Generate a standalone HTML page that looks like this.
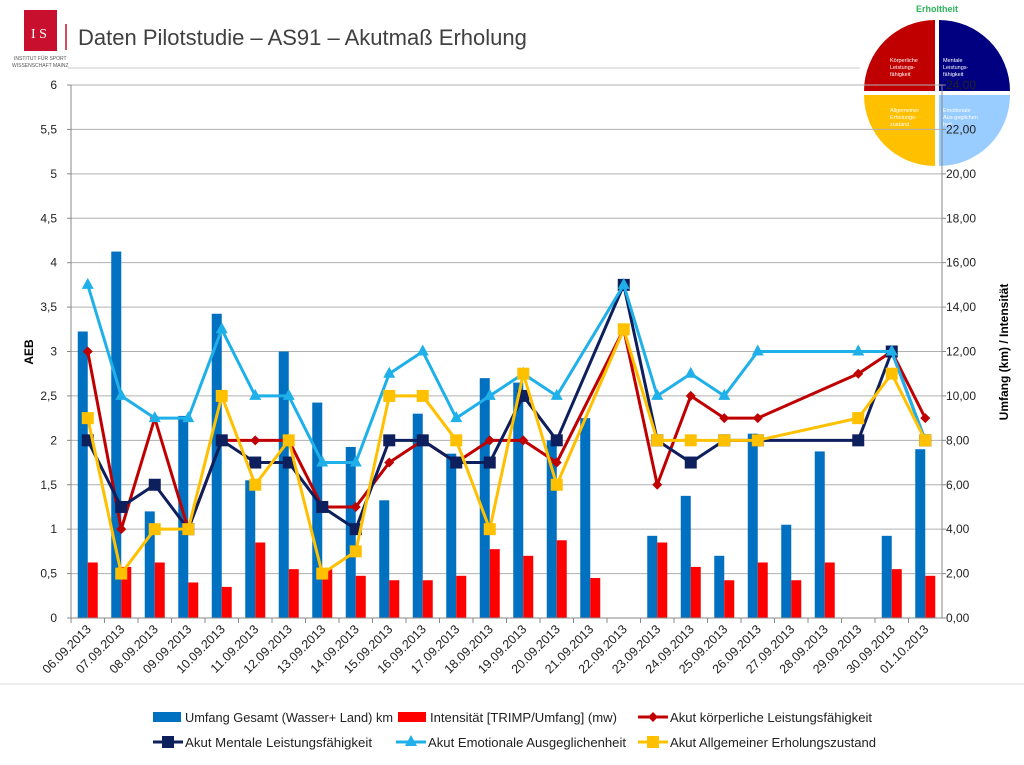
<!DOCTYPE html>
<html><head><meta charset="utf-8">
<style>
body{margin:0;background:#fff;width:1024px;height:765px;overflow:hidden;font-family:"Liberation Sans",sans-serif;}
svg{position:absolute;left:0;top:0}
</style></head>
<body>
<svg id="chart" width="1024" height="765">
 <g>
  <rect x="24" y="10" width="33" height="41" fill="#c8102e"/>
  <text x="31" y="38" font-size="14" fill="#fff" font-family="Liberation Serif, serif">I S</text>
  <text x="14" y="60" font-size="5" fill="#555">INSTITUT FÜR SPORT</text>
  <text x="12" y="67" font-size="5" fill="#555">WISSENSCHAFT MAINZ</text>
  <line x1="66" y1="24" x2="66" y2="50" stroke="#c8102e" stroke-width="1.5"/>
  <text x="78" y="45" font-size="22" fill="#404040">Daten Pilotstudie – AS91 – Akutmaß Erholung</text>
  <line x1="68" y1="68" x2="860" y2="68" stroke="#ccc" stroke-width="1"/>
 </g>
 <g>
  <text x="937" y="12" font-size="9" font-weight="bold" fill="#2eb35a" text-anchor="middle">Erholtheit</text>
  <path d="M935,91 L935,20 A71,71 0 0 0 864,91 Z" fill="#c00000"/>
  <path d="M939,91 L939,20 A71,71 0 0 1 1010,91 Z" fill="#000080"/>
  <path d="M935,95 L864,95 A71,71 0 0 0 935,166 Z" fill="#ffc000"/>
  <path d="M939,95 L1010,95 A71,71 0 0 1 939,166 Z" fill="#99ccff"/>
  <g font-size="5.5" fill="#fff">
   <text x="890" y="62">Körperliche</text><text x="890" y="69">Leistungs-</text><text x="890" y="76">fähigkeit</text>
   <text x="943" y="62">Mentale</text><text x="943" y="69">Leistungs-</text><text x="943" y="76">fähigkeit</text>
   <text x="890" y="112">Allgemeiner</text><text x="890" y="119">Erholungs-</text><text x="890" y="126">zustand</text>
   <text x="943" y="112">Emotionale</text><text x="943" y="119">Aus-geglichen</text><text x="943" y="126">heit</text>
  </g>
 </g>
 <g id="grid"></g><g id="bars"></g><g id="lines"></g><g id="axes"></g>
 <line x1="0" y1="684" x2="1024" y2="684" stroke="#d9d9d9" stroke-width="1"/>
 <g id="legend" font-size="13" fill="#222"></g>
</svg>
<script>
const dates=["06.09.2013","07.09.2013","08.09.2013","09.09.2013","10.09.2013","11.09.2013","12.09.2013","13.09.2013","14.09.2013","15.09.2013","16.09.2013","17.09.2013","18.09.2013","19.09.2013","20.09.2013","21.09.2013","22.09.2013","23.09.2013","24.09.2013","25.09.2013","26.09.2013","27.09.2013","28.09.2013","29.09.2013","30.09.2013","01.10.2013"];
const umfang=[12.9,16.5,4.8,9.1,13.7,6.2,12.0,9.7,7.7,5.3,9.2,7.4,10.8,10.6,8.0,9.0,null,3.7,5.5,2.8,8.3,4.2,7.5,null,3.7,7.6];
const intens=[2.5,2.3,2.5,1.6,1.4,3.4,2.2,2.2,1.9,1.7,1.7,1.9,3.1,2.8,3.5,1.8,null,3.4,2.3,1.7,2.5,1.7,2.5,null,2.2,1.9];
const koerper=[3,1,2.25,1,2,2,2,1.25,1.25,1.75,2,1.75,2,2,1.75,null,3.25,1.5,2.5,2.25,2.25,null,null,2.75,3,2.25];
const mental=[2,1.25,1.5,1.0,2,1.75,1.75,1.25,1.0,2,2,1.75,1.75,2.5,2,null,3.75,2,1.75,2,2,null,null,2,3,2];
const emotion=[3.75,2.5,2.25,2.25,3.25,2.5,2.5,1.75,1.75,2.75,3,2.25,2.5,2.75,2.5,null,3.75,2.5,2.75,2.5,3,null,null,3,3,2];
const allg=[2.25,0.5,1,1,2.5,1.5,2,0.5,0.75,2.5,2.5,2,1,2.75,1.5,null,3.25,2,2,2,2,null,null,2.25,2.75,2];
const leftTicks=["0","0,5","1","1,5","2","2,5","3","3,5","4","4,5","5","5,5","6"];
const rightTicks=["0,00","2,00","4,00","6,00","8,00","10,00","12,00","14,00","16,00","18,00","20,00","22,00","24,00"];

const NS="http://www.w3.org/2000/svg";
const X0=71,X1=942,Y0=618,Y1=85,N=dates.length,cw=(X1-X0)/N;
const xc=i=>X0+cw*(i+0.5);
const yl=v=>Y0-(v/6)*(Y0-Y1);
const yr=v=>Y0-(v/24)*(Y0-Y1);
function mk(tag,attrs,parent){const e=document.createElementNS(NS,tag);for(const k in attrs)e.setAttribute(k,attrs[k]);parent.appendChild(e);return e;}
const grid=document.getElementById('grid'),bars=document.getElementById('bars'),lines=document.getElementById('lines'),axes=document.getElementById('axes');
leftTicks.forEach((t,i)=>{
 const v=i*0.5,y=yl(v);
 const g=mk('line',{x1:X0,x2:X1,y1:y,y2:y,stroke:'#b0b0b0','stroke-width':1},grid);
 
 
 const tx=mk('text',{x:57,y:y+4,'font-size':12,'text-anchor':'end',fill:'#222'},axes);tx.textContent=t;
 
 
 mk('line',{x1:X0-4,x2:X0,y1:y,y2:y,stroke:'#888'},axes);
});
rightTicks.forEach((t,i)=>{
 const y=yr(i*2);
 const tx=mk('text',{x:946,y:y+4,'font-size':12,fill:'#222'},axes);tx.textContent=t;
 
 
 mk('line',{x1:X1,x2:X1+4,y1:y,y2:y,stroke:'#888'},axes);
});
mk('line',{x1:X0,x2:X0,y1:Y1,y2:Y0,stroke:'#888'},axes);
mk('line',{x1:X1,x2:X1,y1:Y1,y2:Y0,stroke:'#888'},axes);
mk('line',{x1:X0,x2:X1,y1:Y0,y2:Y0,stroke:'#888'},axes);
let t1=mk('text',{x:0,y:0,'font-size':12,'font-weight':'bold',transform:'translate(33,352) rotate(-90)','text-anchor':'middle'},axes);t1.textContent='AEB';


let t2=mk('text',{x:0,y:0,'font-size':12,'font-weight':'bold',transform:'translate(1008,352) rotate(-90)','text-anchor':'middle'},axes);t2.textContent='Umfang (km) / Intensität';


dates.forEach((d,i)=>{
 const x=X0+cw*i;
 mk('line',{x1:x,x2:x,y1:Y0,y2:Y0+5,stroke:'#888'},axes);
 const tx=mk('text',{x:0,y:0,'font-size':12.5,'text-anchor':'end',fill:'#222',transform:`translate(${xc(i)+4},${Y0+12}) rotate(-45)`},axes);tx.textContent=d;
 
 
 if(umfang[i]!=null){const r=mk('rect',{x:xc(i)-10,y:yr(umfang[i]),width:10,height:Y0-yr(umfang[i]),fill:'#0070c0'},bars);
  
  }
 if(intens[i]!=null){const r=mk('rect',{x:xc(i),y:yr(intens[i]),width:10,height:Y0-yr(intens[i]),fill:'#ff0000'},bars);
  
  }
});
function marker(type,x,y,col,p){
 if(type==='d')return mk('path',{d:`M${x},${y-5}L${x+5},${y}L${x},${y+5}L${x-5},${y}Z`,fill:col},p);
 if(type==='s')return mk('rect',{x:x-6,y:y-6,width:12,height:12,fill:col},p);
 return mk('path',{d:`M${x},${y-7}L${x+6},${y+4}L${x-6},${y+4}Z`,fill:col},p);
}
function series(arr,col,type,name){
 const g=mk('g',{},lines);
 
 
 const pts=[];arr.forEach((v,i)=>{if(v!=null)pts.push([xc(i),yl(v)]);});
 mk('polyline',{points:pts.map(p=>p.join(',')).join(' '),fill:'none',stroke:col,'stroke-width':3,'stroke-linejoin':'round'},g);
 pts.forEach(p=>{const m=marker(type,p[0],p[1],col,g);
  
  });
}
series(koerper,'#c00000','d','line-koerperlich');
series(mental,'#0d1f5c','s','line-mental');
series(emotion,'#1fb0ea','t','line-emotional');
series(allg,'#ffc000','s','line-allgemein');
const lg=document.getElementById('legend');
const items=[
 [153,717,'#0070c0','bar','Umfang Gesamt (Wasser+ Land) km',208],
 [398,717,'#ff0000','bar','Intensität [TRIMP/Umfang] (mw)',187],
 [638,717,'#c00000','d','Akut körperliche Leistungsfähigkeit',202],
 [153,742,'#0d1f5c','s','Akut Mentale Leistungsfähigkeit',187],
 [396,742,'#1fb0ea','t','Akut Emotionale Ausgeglichenheit',198],
 [638,742,'#ffc000','s','Akut Allgemeiner Erholungszustand',206]];
items.forEach(it=>{
 const g=mk('g',{},lg);
 
 
 const [x,y,c,t,l,w]=it;
 if(t==='bar')mk('rect',{x:x,y:y-5,width:28,height:10,fill:c},g);
 else{mk('line',{x1:x,x2:x+30,y1:y,y2:y,stroke:c,'stroke-width':3},g);marker(t,x+15,y,c,g);}
 const tx=mk('text',{x:x+32,y:y+5,textLength:w,lengthAdjust:'spacingAndGlyphs'},g);tx.textContent=l;
});
</script>
</body></html>
